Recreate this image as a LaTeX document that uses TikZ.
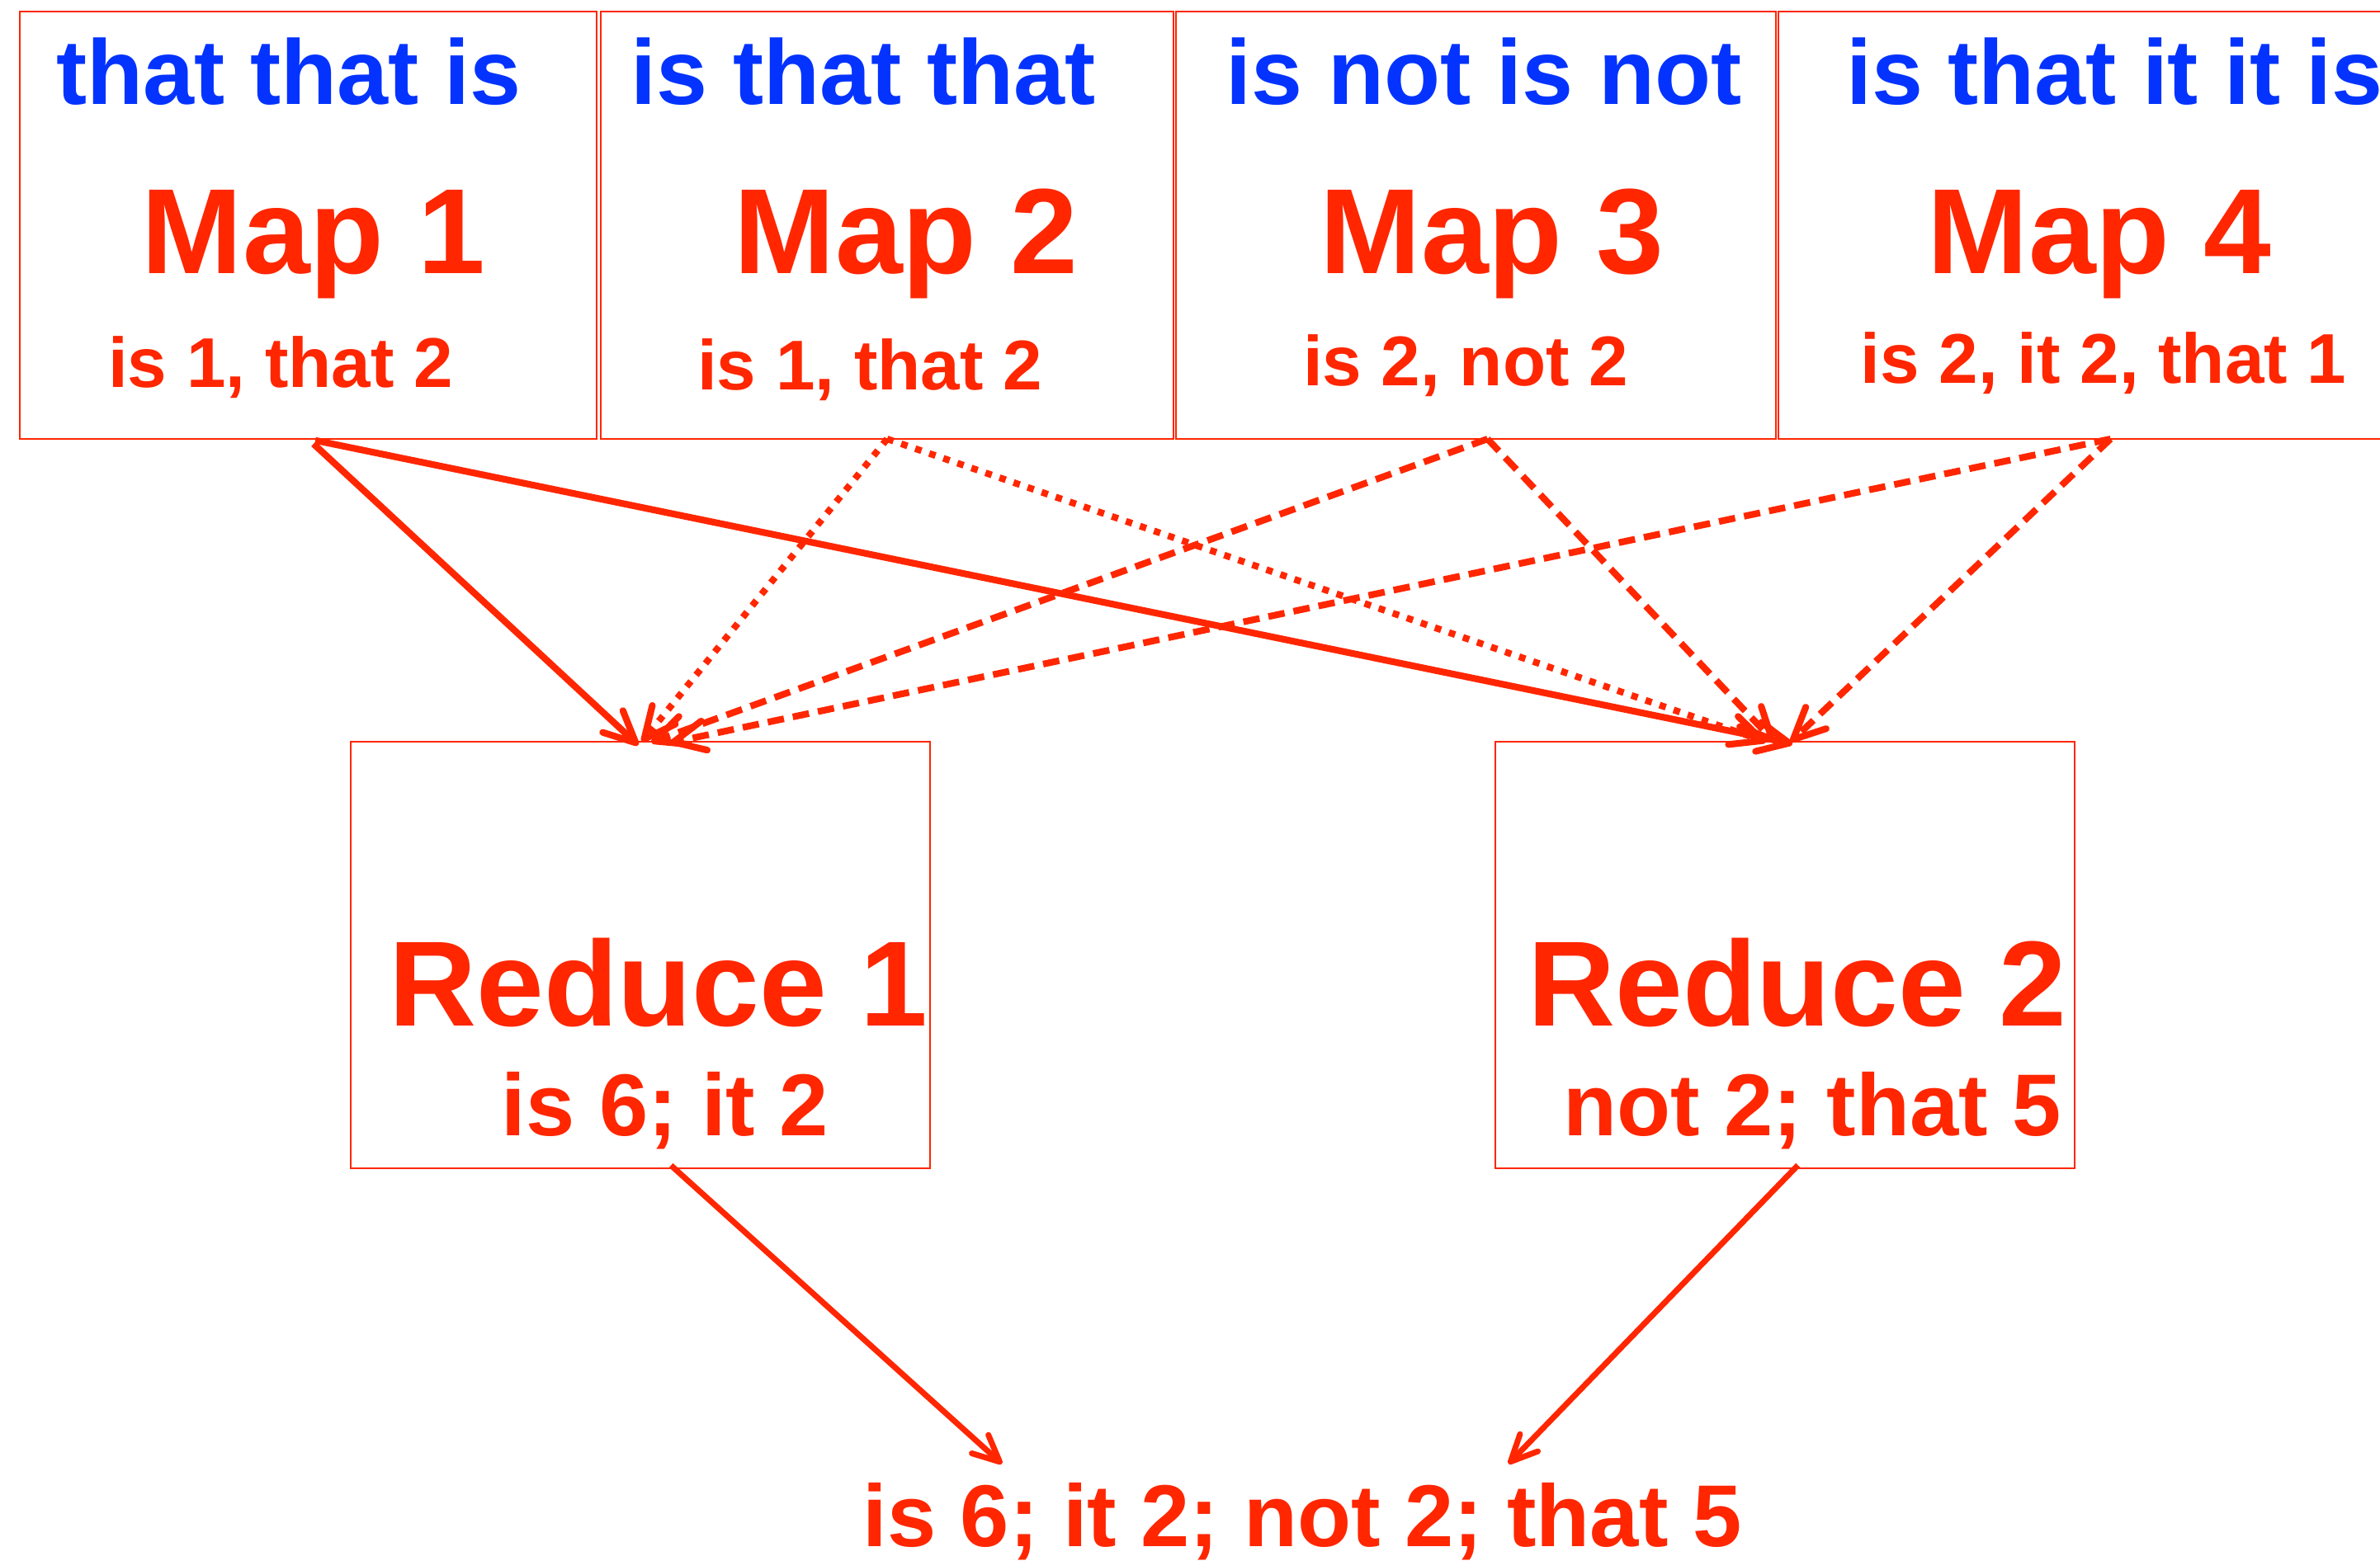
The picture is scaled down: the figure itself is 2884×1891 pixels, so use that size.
\documentclass[tikz,border=0pt]{standalone}
\usepackage{fontspec}
\setmainfont{Liberation Sans}
\usepackage{tikz}
\usetikzlibrary{positioning,arrows.meta}
\definecolor{mapred}{RGB}{255,38,0}
\definecolor{mapblue}{RGB}{4,51,255}
\tikzstyle{mapblock} = [rectangle, draw=mapred, line width=0.6pt, minimum height=51.8mm, inner sep=0pt, outer sep=0pt]
\tikzstyle{reduceblock} = [rectangle, draw=mapred, line width=0.6pt, minimum width=70.2mm, minimum height=51.7mm, inner sep=0pt, outer sep=0pt]
\tikzstyle{inwords} = [anchor=base, inner sep=0pt, text=mapblue, font=\bfseries\fontsize{31.7}{36}\selectfont]
\tikzstyle{maptitle} = [anchor=base, inner sep=0pt, text=mapred, font=\bfseries\fontsize{41.8}{48}\selectfont]
\tikzstyle{wordcount} = [anchor=base, inner sep=0pt, text=mapred, font=\bfseries\fontsize{24.3}{28}\selectfont]
\tikzstyle{sumtext} = [anchor=base, inner sep=0pt, text=mapred, font=\bfseries\fontsize{30.3}{36}\selectfont]
\tikzstyle{line} = [draw=mapred, line width=2.3pt, -{Straight Barb[length=3.8mm, width=3.6mm, line cap=round, line join=round]}]
\tikzstyle{dotline} = [line, dash pattern=on 0.8mm off 1mm]
\tikzstyle{dashline} = [line, dash pattern=on 2mm off 1.1mm]
\tikzstyle{thinline} = [line, line width=2pt, -{Straight Barb[length=3.2mm, width=3mm, line cap=round, line join=round]}]

\begin{document}
\begin{tikzpicture}[x=0.1mm, y=-0.1mm]
				\useasboundingbox (0,0) rectangle (2884,1891);
				\clip (0,0) rectangle (2884,1891);
				% Place nodes
				\node [mapblock, minimum width=69.9mm] (map1) at (373.5,273) {};
				\node [mapblock, minimum width=69.4mm] (map2) at (1075,273) {};
				\node [mapblock, minimum width=72.7mm] (map3) at (1788.5,273) {};
				\node [mapblock, minimum width=80.5mm] (map4) at (2557.5,273) {};
				\node [inwords] (in1) at (350,126) {that that is};
				\node [inwords] (in2) at (1046,126) {is that that};
				\node [inwords] (in3) at (1798,126) {is not is not};
				\node [inwords] (in4) at (2562,126) {is that it it is};
				\node [maptitle] (name1) at (380,331) {Map 1};
				\node [maptitle] (name2) at (1098,331) {Map 2};
				\node [maptitle] (name3) at (1808,331) {Map 3};
				\node [maptitle] (name4) at (2544,331) {Map 4};
				\node [wordcount] (out1) at (340,469) {is 1, that 2};
				\node [wordcount] (out2) at (1054,472) {is 1, that 2};
				\node [wordcount] (out3) at (1776,467) {is 2, not 2};
				\node [wordcount] (out4) at (2549,464) {is 2, it 2, that 1};
				\node [reduceblock] (red1) at (776,1157.5) {};
				\node [reduceblock] (red2) at (2163,1157.5) {};
				\node [maptitle] (rname1) at (798,1243) {Reduce 1};
				\node [maptitle] (rname2) at (2178,1243) {Reduce 2};
				\node [sumtext] (rout1) at (806,1376) {is 6; it 2};
				\node [sumtext] (rout2) at (2196,1376) {not 2; that 5};
				\node [sumtext, inner ysep=2.2mm] (result) at (1578,1874) {is 6; it 2; not 2; that 5};
				% Map to reduce
				\path [line, shorten <=2.5pt, shorten >=-1.7pt] (map1.south) -- ([xshift=-0.7mm]red1.north);
				\path [line, shorten <=2.5pt, shorten >=-3.5pt] (map1.south) -- ([xshift=-0.3mm]red2.north);
				\path [dotline] (map2.south) -- ([xshift=0.2mm]red1.north);
				\path [dotline] (map2.south) -- ([xshift=-2.3mm]red2.north);
				\path [dashline, shorten >=-0.5pt] ([xshift=1.4mm]map3.south) -- ([xshift=1.5mm]red1.north);
				\path [dashline] ([xshift=1.4mm]map3.south) -- ([xshift=-1.3mm]red2.north);
				\path [dashline, shorten >=-1.7pt] (map4.south) -- ([xshift=4.2mm]red1.north);
				\path [dashline] (map4.south) -- ([xshift=0.7mm]red2.north);
				% Reduce to result
				\path [thinline, shorten <=-1.5pt] ([xshift=4.1mm]red1.south) -- ([xshift=-36.4mm]result.north);
				\path [thinline, shorten <=-1.5pt] ([xshift=1.2mm]red2.south) -- ([xshift=25mm]result.north);
\end{tikzpicture}
\end{document}
